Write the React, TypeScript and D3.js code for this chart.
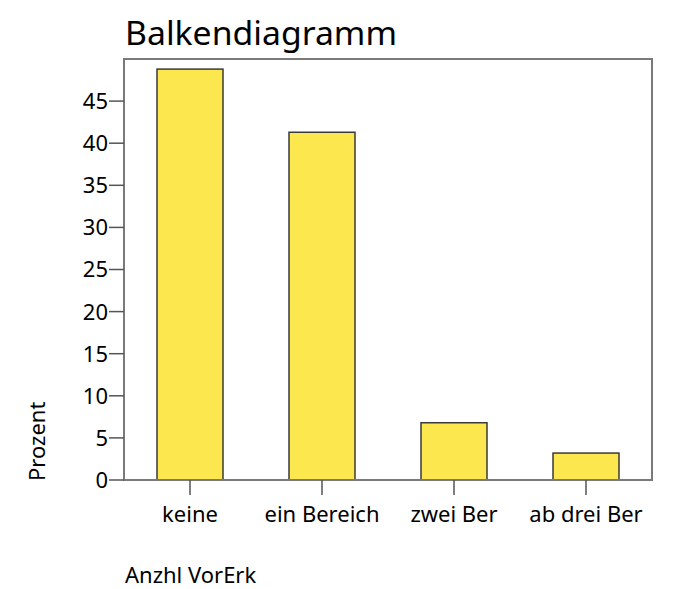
import React from "react";
import * as d3 from "d3";

const categories = ["keine", "ein Bereich", "zwei Ber", "ab drei Ber"];
const percents = [48.8, 41.3, 6.8, 3.2];
const yTicks = [0, 5, 10, 15, 20, 25, 30, 35, 40, 45];
const title = "Balkendiagramm";
const yLabel = "Prozent";
const xLabel = "Anzhl VorErk";

const W = 694;
const H = 589;
const frame = { left: 124, top: 59, right: 652, bottom: 480 };
const font = "'Noto Sans', Tahoma, 'DejaVu Sans', sans-serif";

export default function App() {
  const x = d3
    .scaleBand<string>()
    .domain(categories)
    .range([frame.left, frame.right])
    .paddingInner(0.5)
    .paddingOuter(0.25);
  const y = d3.scaleLinear().domain([0, 50]).range([frame.bottom, frame.top]);

  return (
    <svg
      width={W}
      height={H}
      style={{ position: "absolute", left: 0, top: 0, background: "#fff" }}
      fontFamily={font}
    >
      <rect x={0} y={0} width={W} height={H} fill="#fff" />
      <text x={125} y={45} fontSize={33} fill="#000" textLength={272} lengthAdjust="spacingAndGlyphs">
        {title}
      </text>
      {categories.map((c, i) => (
        <rect
          key={c}
          x={x(c)!}
          y={y(percents[i])}
          width={x.bandwidth()}
          height={y(0) - y(percents[i])}
          fill="#fde74e"
          stroke="#3a3a3a"
          strokeWidth={1.5}
        />
      ))}
      <rect
        x={frame.left}
        y={frame.top}
        width={frame.right - frame.left}
        height={frame.bottom - frame.top}
        fill="none"
        stroke="#7a7a7a"
        strokeWidth={2}
      />
      {yTicks.map((t) => (
        <g key={t}>
          <line x1={frame.left - 15} x2={frame.left} y1={y(t)} y2={y(t)} stroke="#555" strokeWidth={1.5} />
          <text x={frame.left - 16} y={y(t)} dy="0.36em" textAnchor="end" fontSize={22} fill="#000">
            {t}
          </text>
        </g>
      ))}
      {categories.map((c) => {
        const cx = x(c)! + x.bandwidth() / 2;
        return (
          <g key={c}>
            <line x1={cx} x2={cx} y1={frame.bottom} y2={frame.bottom + 15} stroke="#555" strokeWidth={1.5} />
            <text x={cx} y={522} textAnchor="middle" fontSize={22} fill="#000">
              {c}
            </text>
          </g>
        );
      })}
      <text transform={`translate(45, 481) rotate(-90)`} fontSize={22} fill="#000" textAnchor="start">
        {yLabel}
      </text>
      <text x={125} y={583} fontSize={22} fill="#000">
        {xLabel}
      </text>
    </svg>
  );
}
